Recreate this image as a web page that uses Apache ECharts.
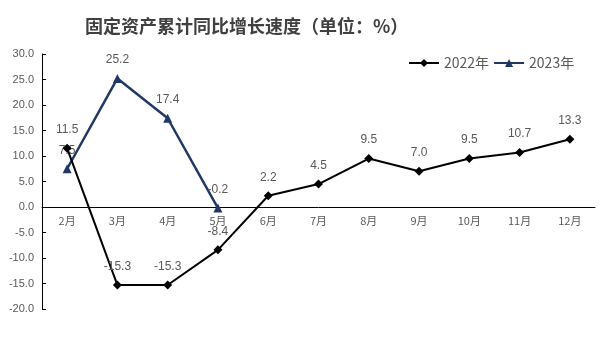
<!DOCTYPE html>
<html>
<head>
<meta charset="utf-8">
<script src="https://cdn.jsdelivr.net/npm/echarts@6/dist/echarts.min.js"></script>
<style>
  html, body { margin: 0; padding: 0; background: #fff; }
  #chart { width: 610px; height: 354px; }
</style>
</head>
<body>
<div id="chart"></div>
<script>
// 月份
const months = ["2月", "3月", "4月", "5月", "6月", "7月", "8月", "9月", "10月", "11月", "12月"];
// 2022年 累计同比
const data2022 = [11.5, -15.3, -15.3, -8.4, 2.2, 4.5, 9.5, 7.0, 9.5, 10.7, 13.3];
// 2023年 累计同比（到5月）
const data2023 = [7.5, 25.2, 17.4, -0.2];

const chart = echarts.init(document.getElementById("chart"));
const textColor = "#595959";

chart.setOption({
  animation: false,
  title: {
    text: "固定资产累计同比增长速度（单位：%）",
    left: 80,
    top: 12,
    textStyle: {
      fontFamily: "Noto Sans CJK SC",
      fontSize: 18,
      fontWeight: "bold",
      color: "#404040",
    },
  },
  legend: {
    top: 51,
    left: 403,
    itemWidth: 30,
    itemHeight: 10,
    itemGap: 4,
    textStyle: { fontSize: 14, color: textColor, fontFamily: "Noto Sans CJK SC" },
    data: ["2022年", "2023年"],
  },
  grid: { left: 42, right: 15, top: 54, bottom: 45 },
  xAxis: {
    type: "category",
    data: months,
    // 轴线放在0位置，标签跟随
    offset: -102,
    axisLine: { onZero: false, lineStyle: { color: "#000", width: 1 } },
    axisTick: { inside: true, length: 4, lineStyle: { color: "#000" } },
    axisLabel: {
      color: textColor,
      fontSize: 11,
      fontFamily: "Noto Sans CJK SC",
      margin: 8,
    },
  },
  yAxis: {
    type: "value",
    min: -20,
    max: 30,
    interval: 5,
    splitLine: { show: false },
    axisLine: { show: true, lineStyle: { color: "#000", width: 1 } },
    axisTick: { show: true, inside: true, length: 4, lineStyle: { color: "#000" } },
    axisLabel: {
      color: textColor,
      fontSize: 11,
      margin: 8,
      formatter: (v) => v.toFixed(1),
    },
  },
  series: [
    {
      name: "2022年",
      type: "line",
      data: data2022,
      symbol: "diamond",
      symbolSize: 9,
      itemStyle: { color: "#000" },
      lineStyle: { color: "#000", width: 2 },
      label: {
        show: true,
        position: "top",
        distance: 8,
        color: textColor,
        fontSize: 12,
        formatter: (p) => p.value.toFixed(1),
      },
      z: 3,
    },
    {
      name: "2023年",
      type: "line",
      data: data2023,
      symbol: "triangle",
      symbolSize: 9,
      itemStyle: { color: "#1f3864" },
      lineStyle: { color: "#1f3864", width: 2.5 },
      label: {
        show: true,
        position: "top",
        distance: 8,
        color: textColor,
        fontSize: 12,
        formatter: (p) => p.value.toFixed(1),
      },
      z: 2,
    },
  ],
});
</script>
</body>
</html>
